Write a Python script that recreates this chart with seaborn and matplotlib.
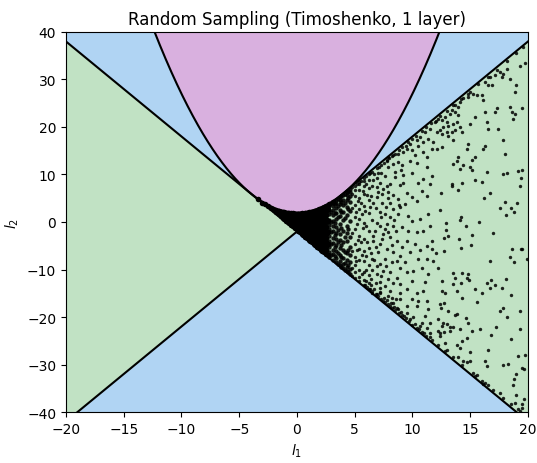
import numpy as np
import pandas as pd
import matplotlib.pyplot as plt
import seaborn as sns

# Boundaries: lines l2 = +/-2*l1 - 2, parabola l2 = 2 + l1^2/4
line_slope = 2.0
line_icpt = -2.0
para_vertex = 2.0
para_curv = 0.25

x_range = (-20, 20)
y_range = (-40, 40)
x_ticks = [-20, -15, -10, -5, 0, 5, 10, 15, 20]
y_ticks = [-40, -30, -20, -10, 0, 10, 20, 30, 40]

core_pts = [
    (-3.4, 4.85), (-3.0, 4.1), (-2.75, 3.7), (-2.5, 3.3), (-2.25, 2.9), (-2.0, 2.5), (-1.85, 2.2),
    (-1.7, 2.1), (-1.55, 1.6), (-1.55, 2.3), (-1.4, 1.2), (-1.4, 2.1), (-1.25, 0.9), (-1.25, 1.6),
    (-1.25, 2.1), (-1.1, 0.6), (-1.1, 1.3), (-1.1, 2.0), (-0.95, 0.3), (-0.95, 1.0), (-0.95, 1.7),
    (-0.8, 0.0), (-0.8, 0.7), (-0.8, 1.4), (-0.8, 1.9), (-0.65, -0.3), (-0.65, 0.4), (-0.65, 1.1),
    (-0.65, 1.8), (-0.5, -0.6), (-0.5, 0.1), (-0.5, 0.8), (-0.5, 1.5), (-0.5, 1.9), (-0.35, -0.9),
    (-0.35, -0.2), (-0.35, 0.5), (-0.35, 1.2), (-0.35, 1.8), (-0.2, -1.2), (-0.2, -0.5), (-0.2, 0.2),
    (-0.2, 0.9), (-0.2, 1.6),
    (0.1, -1.9), (0.12, -1.2), (0.08, -0.5), (0.1, 0.3), (0.13, 1.0), (0.1, 1.7),
    (0.25, -2.2), (0.25, -1.5), (0.25, -0.8), (0.25, 0.0), (0.25, 0.7), (0.25, 1.4),
    (0.4, -2.5), (0.37, -1.8), (0.42, -1.0), (0.4, -0.3), (0.38, 0.4), (0.43, 1.1), (0.4, 1.8),
    (0.55, -2.8), (0.55, -2.0), (0.55, -1.3), (0.55, -0.6), (0.55, 0.2), (0.55, 0.9), (0.55, 1.6),
    (0.7, -3.1), (0.72, -2.4), (0.68, -1.6), (0.7, -0.9), (0.73, -0.2), (0.7, 0.6), (0.67, 1.3), (0.7, 1.9),
    (0.85, -3.4), (0.85, -2.7), (0.85, -1.9), (0.85, -1.2), (0.85, -0.5), (0.85, 0.3), (0.85, 1.0), (0.85, 1.7),
    (1.0, -3.7), (1.02, -3.0), (0.98, -2.3), (1.0, -1.5), (1.03, -0.8), (1.0, 0.0), (0.97, 0.7), (1.0, 1.4), (1.02, 2.0),
    (1.15, -4.0), (1.15, -3.3), (1.15, -2.6), (1.15, -1.9), (1.15, -1.1), (1.15, -0.4), (1.15, 0.4), (1.15, 1.1), (1.15, 1.8),
    (1.3, -4.3), (1.28, -3.6), (1.32, -2.8), (1.3, -2.1), (1.27, -1.3), (1.3, -0.6), (1.33, 0.2), (1.3, 0.9), (1.28, 1.6), (1.3, 2.2),
    (1.45, -4.6), (1.45, -3.9), (1.45, -3.1), (1.45, -2.4), (1.45, -1.6), (1.45, -0.8), (1.45, 0.0), (1.45, 0.7), (1.45, 1.4), (1.45, 2.1),
    (1.6, -4.9), (1.62, -4.2), (1.58, -3.4), (1.6, -2.7), (1.63, -1.9), (1.6, -1.1), (1.57, -0.4), (1.6, 0.4), (1.62, 1.1), (1.6, 1.8), (1.58, 2.4),
    (1.75, -5.2), (1.75, -4.4), (1.75, -3.7), (1.75, -2.9), (1.75, -2.1), (1.75, -1.3), (1.75, -0.6), (1.75, 0.2), (1.75, 0.9), (1.75, 1.6), (1.75, 2.3),
    (1.9, -5.5), (1.88, -4.7), (1.92, -4.0), (1.9, -3.2), (1.87, -2.5), (1.9, -1.7), (1.93, -0.9), (1.9, -0.2), (1.88, 0.6), (1.9, 1.3), (1.92, 2.0), (1.9, 2.7),
    (2.05, -5.8), (2.05, -5.0), (2.05, -4.3), (2.05, -3.5), (2.05, -2.8), (2.05, -2.0), (2.05, -1.2), (2.05, -0.4), (2.05, 0.3), (2.05, 1.1), (2.05, 1.8), (2.05, 2.6),
    (2.2, -6.1), (2.18, -5.3), (2.22, -4.5), (2.2, -3.8), (2.17, -3.0), (2.2, -2.2), (2.23, -1.4), (2.2, -0.7), (2.18, 0.1), (2.2, 0.9), (2.22, 1.6), (2.2, 2.4), (2.2, 3.0),
    (2.35, -6.4), (2.35, -5.6), (2.35, -4.8), (2.35, -4.1), (2.35, -3.2), (2.35, -2.4), (2.35, -1.6), (2.35, -0.8), (2.35, 0.0), (2.35, 0.8), (2.35, 1.6), (2.35, 2.4), (2.35, 3.1),
    (2.5, -6.7), (2.48, -5.9), (2.52, -5.1), (2.5, -4.3), (2.47, -3.4), (2.5, -2.6), (2.53, -1.8), (2.5, -1.0), (2.48, -0.1), (2.5, 0.7), (2.52, 1.5), (2.5, 2.3), (2.5, 3.3),
    (2.8, 3.7), (3.1, 4.3), (2.65, -7.0), (2.65, -4.7), (2.65, -2.2), (2.65, 0.3), (2.65, 2.8),
]

near_pts = [
    (2.8, -7.3), (2.8, -6.4), (2.8, -5.2), (2.8, -4.0), (2.8, -2.9), (2.8, -1.5), (2.8, -0.6), (2.8, 0.5), (2.8, 1.7), (2.8, 2.6), (2.8, 3.3),
    (3.1, -7.9), (3.1, -6.8), (3.1, -5.9), (3.1, -4.4), (3.1, -3.3), (3.1, -2.0), (3.1, -0.9), (3.1, 0.3), (3.1, 1.4), (3.1, 2.5), (3.1, 3.4), (3.1, 4.0),
    (3.4, -8.5), (3.4, -7.5), (3.4, -6.1), (3.4, -4.9), (3.4, -3.6), (3.4, -2.3), (3.4, -1.0), (3.4, 0.6), (3.4, 1.9), (3.4, 3.0), (3.4, 4.1), (3.4, 4.6),
    (3.7, -9.1), (3.7, -8.2), (3.7, -7.0), (3.7, -5.4), (3.7, -3.8), (3.7, -2.6), (3.7, -0.4), (3.7, 1.2), (3.7, 2.6), (3.7, 3.7), (3.7, 4.6), (3.7, 5.2),
    (4.0, -9.7), (4.0, -8.8), (4.0, -7.6), (4.0, -5.9), (4.0, -4.3), (4.0, -1.8), (4.0, 0.4), (4.0, 2.0), (4.0, 3.5), (4.0, 4.7), (4.0, 5.7),
    (4.3, -10.3), (4.3, -9.4), (4.3, -8.1), (4.3, -6.6), (4.3, -4.0), (4.3, -2.4), (4.3, -0.8), (4.3, 1.5), (4.3, 3.1), (4.3, 4.6), (4.3, 5.6), (4.3, 6.3),
    (4.6, -10.9), (4.6, -9.9), (4.6, -8.4), (4.6, -6.9), (4.6, -5.2), (4.6, -3.1), (4.6, 0.2), (4.6, 2.4), (4.6, 4.2), (4.6, 5.4), (4.6, 6.4), (4.6, 6.9),
    (2.95, -6.9), (2.95, -4.6), (2.95, -2.2), (2.95, 0.0), (2.95, 2.1), (3.25, -7.2), (3.25, -5.2), (3.25, -2.7),
    (3.25, -0.3), (3.25, 1.9), (3.25, 3.8), (3.55, -8.8), (3.55, -6.6), (3.55, -4.3), (3.55, -1.6), (3.55, 1.0),
    (3.55, 3.4), (3.55, 4.9), (3.85, -9.4), (3.85, -7.4), (3.85, -4.8), (3.85, -1.2), (3.85, 2.1), (3.85, 4.2),
    (3.85, 5.5), (4.15, -10.0), (4.15, -8.6), (4.15, -6.3), (4.15, -3.2), (4.15, 0.9), (4.15, 3.9), (4.15, 5.9),
    (4.45, -10.6), (4.45, -9.0), (4.45, -5.9), (4.45, -1.4), (4.45, 2.7), (4.45, 5.0), (4.45, 6.6),
]

mid_pts = [
    (5.1, -8.2), (5.2, -6.0), (5.3, -3.8), (5.2, -0.4), (5.1, 2.2), (5.3, 4.4), (5.6, -11.0), (5.6, -7.0),
    (5.5, -4.3), (5.7, -1.2), (5.6, 1.6), (5.5, 4.0), (5.7, 6.6), (6.0, -10.0), (6.0, -7.2), (6.1, -4.2),
    (6.0, -0.9), (5.9, 2.4), (6.1, 5.6), (6.0, 8.1), (6.4, -12.0), (6.5, -10.2), (6.4, -6.5), (6.6, -2.9),
    (6.5, 0.5), (6.4, 5.4), (6.6, 8.8), (6.8, -12.9), (6.9, -11.0), (6.8, -5.3), (6.9, -0.3), (6.8, 2.9),
    (6.9, 9.2), (7.0, 6.3), (6.7, -8.1), (7.2, -14.7), (7.3, -11.4), (7.2, -8.8), (7.4, -3.6), (7.3, 1.0),
    (7.4, 4.0), (7.3, 10.4), (7.6, -13.4), (7.7, -9.2), (7.6, -1.5), (7.7, 3.2), (7.6, 9.6), (7.9, -15.5),
    (7.9, -12.0), (7.9, -2.2), (7.9, 6.3), (7.9, 11.5), (8.2, -15.9), (8.3, -12.8), (8.2, -4.9), (8.4, 0.4),
    (8.3, 5.6), (8.5, 10.6), (8.6, -16.2), (8.7, -8.3), (8.6, -1.8), (8.8, 3.6), (8.9, 7.8), (8.9, -13.0),
    (9.0, 11.0), (9.1, -5.2),
]

wedge_pts = [
    (5.0, -11.7), (5.0, -10.6), (5.0, -9.1), (5.0, -7.3), (5.0, -4.6), (5.0, -1.5), (5.0, 1.1), (5.0, 3.6), (5.0, 5.5), (5.0, 6.7), (5.0, 7.6),
    (5.4, -12.5), (5.4, -11.5), (5.4, -10.0), (5.4, -8.0), (5.4, -5.7), (5.4, -2.9), (5.4, 0.6), (5.4, 2.8), (5.4, 5.1), (5.4, 6.8), (5.4, 7.9), (5.4, 8.5),
    (5.8, -13.3), (5.8, -12.2), (5.8, -10.5), (5.8, -8.3), (5.8, -6.1), (5.8, -3.6), (5.8, -0.2), (5.8, 3.3), (5.8, 5.9), (5.8, 7.6), (5.8, 8.7), (5.8, 9.3),
    (6.2, -14.1), (6.2, -12.9), (6.2, -11.2), (6.2, -9.0), (6.2, -5.5), (6.2, -2.0), (6.2, 1.8), (6.2, 4.7), (6.2, 7.1), (6.2, 8.9), (6.2, 10.0),
    (4.8, -11.4), (4.8, -9.6), (4.8, -6.2), (4.8, -2.3), (4.8, 3.0), (4.8, 5.9), (4.8, 7.3),
    (7.76, 12.9), (8.34, 12.2), (8.77, 12.6), (9.06, 11.9), (9.78, 12.9), (10.36, 12.4), (11.22, 11.5), (9.93, 10.4),
    (9.2, 9.9), (8.48, 9.4), (8.05, 8.0), (7.76, 7.6), (7.18, 8.2), (6.89, 7.3), (6.46, 7.6), (7.47, 6.9),
    (9.2, 8.3), (10.5, 8.3), (10.94, 9.0), (11.66, 9.7), (11.51, 8.0), (10.79, 6.6), (11.22, 5.5), (10.36, 4.5),
    (9.93, 5.2), (9.49, 6.2), (9.35, 3.8), (8.91, 3.1), (8.34, 2.7), (8.05, 4.1), (8.77, 4.8), (7.9, 5.0),
    (7.33, 5.9), (6.89, 5.2), (6.61, 4.1), (6.32, 3.1), (7.18, 2.0), (7.62, 1.7), (8.05, 1.0), (8.77, 1.7),
    (9.64, 1.3), (9.93, 0.3), (10.65, 0.6), (11.37, 1.7), (11.51, -0.8), (10.94, -1.8), (10.36, -2.2), (9.64, -1.8),
    (9.06, -1.1), (8.34, -0.8), (7.76, -0.4), (7.18, -0.8), (6.75, -1.8), (7.47, -2.5), (8.05, -3.2), (8.63, -3.9),
    (9.49, -3.9), (10.21, -4.6), (11.22, -5.0), (11.66, -5.7), (10.65, -6.0), (9.78, -6.4), (8.91, -7.1), (8.34, -6.4),
    (7.76, -5.7), (7.18, -4.6), (6.61, -3.9), (7.04, -6.4), (7.62, -7.8), (8.19, -8.5), (8.91, -9.6), (9.49, -10.6),
    (10.07, -10.3), (10.79, -9.6), (11.37, -11.0), (8.05, -10.6), (7.47, -10.3), (6.89, -9.2), (6.46, -7.8), (11.22, -7.8),
    (11.8, -8.2), (11.66, -3.9), (10.5, -7.8), (9.35, -8.5), (9.93, -12.4), (11.08, -12.7), (8.63, -11.7), (7.18, -12.7),
    (7.18, -13.8), (8.05, -14.5), (8.91, -14.9), (9.49, -14.2), (10.36, -14.9), (10.94, -14.5), (9.93, -16.3), (10.5, -16.6),
    (11.22, -16.6), (8.91, -16.3), (8.34, -17.0), (9.49, -17.7), (10.36, -17.7), (11.37, -18.4), (11.08, -19.8), (10.79, -21.2),
    (11.51, -21.2), (10.65, -21.9), (10.07, -20.1), (9.49, -19.1), (8.77, -18.4), (8.05, -17.7), (7.47, -16.6), (6.89, -15.2),
    (6.46, -14.9), (11.51, -23.3), (11.22, -22.3),
    (11.95, 21.0), (11.51, 19.6), (11.08, 18.9), (10.65, 17.9), (10.36, 17.2), (10.94, 16.8), (11.37, 17.5), (10.5, 16.1),
    (9.78, 16.5), (9.49, 15.4), (9.93, 15.1), (9.2, 14.7), (8.77, 14.4), (8.34, 14.0), (7.9, 13.7), (10.21, 14.0),
    (10.94, 14.7), (11.66, 15.4), (11.22, 13.7), (11.8, 16.8),
]

edge_pts = [
    (5.2, 8.0), (5.5, 8.7), (6.0, 9.6), (6.3, 10.3), (6.5, 10.6), (6.7, 10.2), (6.9, 11.4), (7.1, 11.6),
    (7.3, 12.0), (7.5, 12.5), (7.0, 10.3), (7.8, 13.1), (8.0, 13.5), (8.2, 13.8), (8.5, 14.3), (8.8, 15.2),
    (9.1, 15.7), (9.4, 16.1), (9.6, 16.9), (10.0, 17.5), (10.3, 18.1), (10.8, 19.2), (11.2, 19.9), (11.6, 20.8),
    (12.0, 21.3), (12.4, 22.3), (13.0, 23.4), (13.5, 24.6), (14.2, 25.9), (15.0, 27.4), (15.7, 29.0), (16.5, 30.6),
    (17.3, 32.0), (18.2, 33.9), (19.0, 35.5), (19.6, 36.8),
    (5.9, -13.2), (6.1, -13.7), (6.3, -14.0), (6.0, -12.5), (6.4, -13.2), (6.7, -14.0), (7.2, -15.0), (7.5, -16.0),
    (7.8, -16.4), (8.1, -17.0), (8.4, -17.9), (8.7, -18.2), (9.0, -19.0), (9.3, -19.7), (9.8, -20.5), (10.2, -21.4),
    (10.6, -22.5), (11.0, -23.4), (11.5, -24.2),
    (6.5, -14.6), (6.8, -15.2), (7.0, -15.5), (7.3, -16.2), (7.6, -16.8), (7.9, -17.3), (8.2, -18.0), (8.5, -18.5),
    (8.8, -19.2), (9.1, -19.6), (9.4, -20.3), (9.7, -20.8), (10.0, -21.6), (10.4, -22.3), (10.8, -23.1), (11.2, -23.9),
    (11.7, -24.8), (12.2, -25.8), (12.8, -27.1), (13.5, -28.5), (14.3, -30.0), (15.2, -31.8), (16.0, -33.5), (17.0, -35.4),
    (17.8, -37.0), (18.5, -38.4), (19.3, -39.8),
]

far_pts = [
    (19.74, 33.5), (19.31, 32.8), (19.0, 28.8), (18.88, 27.4), (18.44, 30.2), (18.15, 32.3), (17.87, 31.2), (17.72, 30.5),
    (17.58, 31.6), (17.14, 30.9), (16.86, 28.8), (16.71, 30.5), (16.57, 28.8), (16.28, 29.5), (15.99, 26.7), (16.13, 25.6),
    (15.56, 26.7), (15.27, 27.0), (14.84, 27.0), (14.84, 26.3), (14.4, 26.0), (14.12, 25.3), (13.97, 24.2), (13.68, 24.6),
    (13.39, 23.5), (13.68, 23.2), (13.97, 22.5), (13.25, 22.8), (12.82, 22.1), (12.53, 21.4), (12.24, 21.7), (12.96, 21.0),
    (13.1, 20.3), (13.54, 20.7), (13.83, 21.0), (12.67, 20.0), (12.38, 19.3), (12.1, 18.9), (12.53, 18.6), (12.96, 18.9),
    (13.39, 18.9), (13.68, 19.3), (14.12, 20.0), (14.26, 18.9), (13.1, 18.2), (13.54, 17.2), (14.98, 20.7), (15.41, 22.1),
    (16.28, 23.2), (16.42, 21.0), (16.57, 19.6), (17.29, 23.9), (17.14, 23.2), (17.43, 19.6), (17.87, 17.2), (18.44, 24.2),
    (18.59, 23.2), (18.88, 22.8), (18.73, 21.7), (19.45, 23.9), (14.84, 16.5), (14.69, 15.4), (12.1, 15.4), (12.53, 15.8),
    (16.13, 15.4), (16.28, 16.1), (18.01, 14.4), (13.97, 13.7), (15.41, 13.7),
    (13.54, 12.2), (13.83, 12.9), (14.4, 11.9), (14.12, 11.2), (14.98, 11.5), (15.12, 11.0), (15.12, 13.05), (16.42, 10.5),
    (17.87, 10.1), (18.15, 10.3), (19.17, 10.8), (19.51, 11.0), (19.37, 9.3), (19.31, 7.5), (15.41, 8.9), (15.99, 8.5),
    (14.26, 8.3), (13.39, 8.0), (13.45, 7.6), (13.91, 6.8), (12.47, 6.1), (16.71, 6.1), (16.19, 5.0), (18.01, 4.3),
    (17.58, 2.9), (18.53, 2.9), (18.79, 2.2), (19.08, 3.9), (18.07, 1.5), (12.38, 2.5), (14.2, 1.1), (14.12, 0.4),
    (15.79, -0.1), (12.87, -0.2), (14.6, -0.8), (12.87, -1.7), (13.1, -2.9), (12.73, -3.4), (15.12, -2.7), (14.03, -3.6),
    (16.94, -2.3), (15.04, -4.9), (14.17, -5.5), (12.76, -6.2), (12.01, -6.5), (18.65, -5.7), (19.4, -5.7), (19.51, -5.6),
    (18.44, -7.3), (18.79, -8.5), (16.71, -8.3), (19.89, -7.7), (12.24, -9.6), (13.54, -10.7), (14.26, -10.8), (14.84, -11.0),
    (13.68, -11.7), (14.69, -11.8), (14.89, -12.2), (12.58, -12.4), (16.8, -12.2), (18.07, -11.9), (13.54, -13.1), (14.17, -12.9),
    (16.42, -12.9), (17.14, -13.3),
    (12.53, -14.5), (13.83, -14.5), (15.41, -14.0), (15.99, -15.0), (16.71, -13.8), (17.72, -13.8), (18.53, -15.4), (12.82, -14.9),
    (14.32, -16.1), (15.56, -16.8), (12.38, -17.3), (12.76, -17.1), (12.47, -18.2), (13.05, -18.7), (17.87, -18.0), (17.58, -18.7),
    (18.15, -19.9), (19.31, -18.7), (13.83, -19.4), (13.68, -19.6), (12.24, -20.4), (14.6, -20.3), (14.84, -21.2), (12.67, -21.2),
    (12.96, -21.5), (13.25, -22.0), (13.54, -22.0), (12.53, -21.8), (12.24, -23.0), (12.38, -23.3), (12.76, -23.2), (13.25, -23.0),
    (14.12, -22.6), (15.12, -23.0), (15.85, -22.5), (17.2, -22.2), (16.8, -23.8), (18.53, -24.6), (19.31, -22.6), (14.69, -24.4),
    (14.26, -25.1), (13.83, -25.8), (12.82, -25.4), (12.38, -24.0), (12.96, -27.0), (14.12, -26.5), (16.57, -27.0), (14.98, -27.4),
    (13.97, -28.4), (14.4, -29.3), (14.69, -29.5), (14.98, -29.3), (16.28, -29.3), (16.42, -30.3), (17.87, -30.0), (18.24, -29.8),
    (19.17, -28.2), (19.74, -27.9), (19.45, -30.7), (19.68, -31.0), (18.99, -31.9), (18.82, -33.1), (18.67, -34.4), (18.96, -36.5),
    (19.68, -37.3), (19.45, -38.4), (19.51, -39.1), (19.17, -39.3), (18.88, -38.0), (15.41, -32.4), (15.56, -32.3), (16.13, -34.0),
    (16.57, -34.4), (17.58, -36.1), (16.28, -33.8),
]

blue = "#b0d4f3"
green = "#c1e2c4"
pink = "#d9b0df"

core = pd.DataFrame(core_pts, columns=["l1", "l2"])
near = pd.DataFrame(near_pts, columns=["l1", "l2"])
pts = pd.DataFrame(mid_pts + wedge_pts + edge_pts + far_pts, columns=["l1", "l2"])

xs = np.linspace(x_range[0], x_range[1], 1601)
rise = line_slope * xs + line_icpt
fall = -line_slope * xs + line_icpt
parab = para_vertex + para_curv * xs ** 2

fig = plt.figure(figsize=(5.37, 4.64), dpi=100)
ax = fig.add_axes([0.1229, 0.1099, 0.8603, 0.819])
ax.set_facecolor(blue)

ax.fill_between(xs, np.minimum(rise, fall), np.maximum(rise, fall), color=green, lw=0, zorder=1)
ax.fill_between(xs, np.minimum(parab, y_range[1]), y_range[1], color=pink, lw=0, zorder=1)

# overlapping samples near the origin read as one black patch, thinning out to the right
sns.scatterplot(data=core, x="l1", y="l2", s=16, color="black", linewidth=0, ax=ax, zorder=3)
sns.scatterplot(data=near, x="l1", y="l2", s=10, color="black", alpha=0.9, linewidth=0, ax=ax, zorder=3)
sns.scatterplot(data=pts, x="l1", y="l2", s=6, color="black", alpha=0.85,
                linewidth=0, ax=ax, zorder=3)

for yy in (rise, fall, parab):
    sns.lineplot(x=xs, y=yy, color="black", lw=1.5, ax=ax, zorder=4, estimator=None)

ax.set_xlim(*x_range)
ax.set_ylim(*y_range)
ax.set_xticks(x_ticks)
ax.set_yticks(y_ticks)
ax.set_xlabel("$l_1$")
ax.set_ylabel("$l_2$")
ax.set_title("Random Sampling (Timoshenko, 1 layer)")

fig.savefig("out.png", dpi=100)
